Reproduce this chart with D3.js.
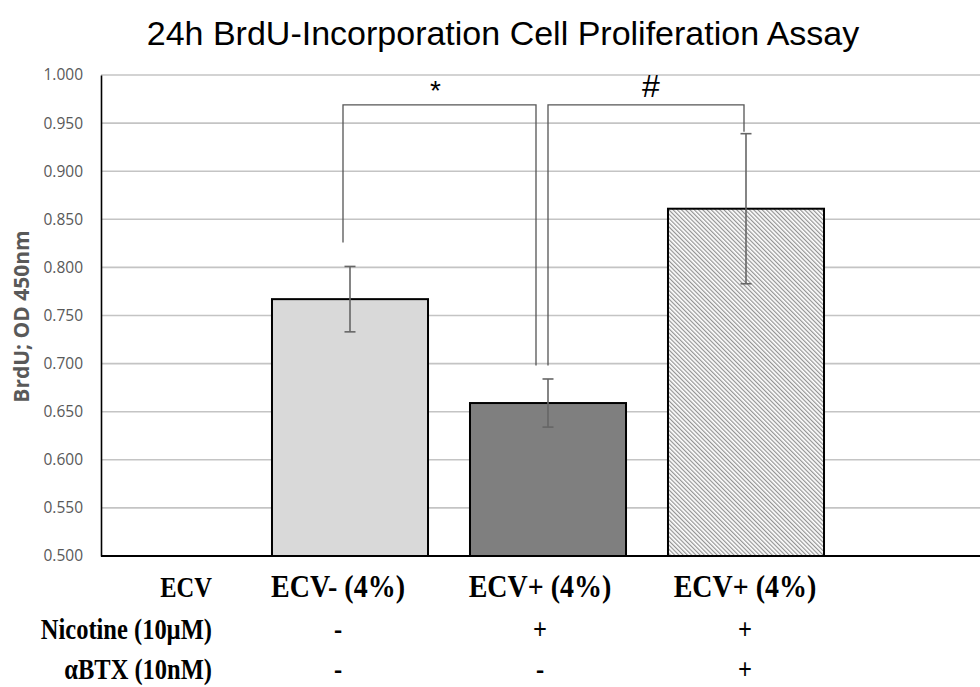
<!DOCTYPE html>
<html>
<head>
<meta charset="utf-8">
<script src="https://cdn.jsdelivr.net/npm/d3@7"></script>
<style>
  html, body { margin: 0; padding: 0; background: #fff; }
  svg { display: block; }
</style>
</head>
<body>
<svg id="chart" width="980" height="687"></svg>
<script>
// ---- data ----
const groups = ["ECV- (4%)", "ECV+ (4%) nic", "ECV+ (4%) nic+btx"];
const groupLabels = ["ECV- (4%)", "ECV+ (4%)", "ECV+ (4%)"];
const means = [0.767, 0.659, 0.861];
const errors = [0.034, 0.025, 0.078];
const nicotineRow = ["-", "+", "+"];
const btxRow = ["-", "-", "+"];
const rowTitles = ["ECV", "Nicotine (10\u00b5M)", "\u03b1BTX (10nM)"];
const yTicks = [0.5, 0.55, 0.6, 0.65, 0.7, 0.75, 0.8, 0.85, 0.9, 0.95, 1.0];
// significance brackets: from/to group index, top level and leg end levels
const brackets = [
  { from: 0, to: 1, top: 0.969, leftEnd: 0.826, rightEnd: 0.698, label: "*" },
  { from: 1, to: 2, top: 0.969, leftEnd: 0.698, rightEnd: 0.941, label: "#" }
];

// ---- layout ----
const svg = d3.select("#chart");
const plotLeft = 101, plotRight = 980, plotTop = 75, plotBottom = 556;

const y = d3.scaleLinear().domain([0.5, 1.0]).range([plotBottom, plotTop]);
const x = d3.scaleBand().domain(groups).range([251, 845]).paddingInner(0.212).paddingOuter(0.106);

// hatch pattern for third bar
const defs = svg.append("defs");
const pat = defs.append("pattern")
  .attr("id", "hatch").attr("patternUnits", "userSpaceOnUse")
  .attr("width", 3).attr("height", 3)
  .attr("patternTransform", "rotate(-45)");
pat.append("rect").attr("width", 3).attr("height", 3).attr("fill", "#ffffff");
pat.append("rect").attr("x", 0).attr("y", 0).attr("width", 1.2).attr("height", 3).attr("fill", "#939393");

// title
svg.append("text")
  .attr("x", 503).attr("y", 45)
  .attr("text-anchor", "middle")
  .attr("font-family", "Liberation Sans, Arial, sans-serif")
  .attr("font-size", 34)
  .attr("fill", "#000")
  .text("24h BrdU-Incorporation Cell Proliferation Assay");

// gridlines
svg.append("g").selectAll("line").data(yTicks.slice(1)).join("line")
  .attr("x1", plotLeft).attr("x2", plotRight)
  .attr("y1", d => y(d)).attr("y2", d => y(d))
  .attr("stroke", "#c4c4c4").attr("stroke-width", 1.6);

// y axis
const yAxis = svg.append("g").attr("transform", `translate(${plotLeft},0)`)
  .call(d3.axisLeft(y).tickValues(yTicks).tickFormat(d3.format(".3f")).tickSize(0).tickPadding(18));
yAxis.select(".domain").attr("stroke", "#000").attr("stroke-width", 1.6);
yAxis.selectAll("text")
  .attr("font-family", "Open Sans, sans-serif")
  .attr("font-size", 15.5)
  .attr("fill", "#595959");

// y axis title
svg.append("text")
  .attr("transform", `translate(29,${(plotTop + plotBottom) / 2 + 1}) rotate(-90)`)
  .attr("text-anchor", "middle")
  .attr("font-family", "Open Sans, sans-serif")
  .attr("font-weight", "bold")
  .attr("font-size", 21)
  .attr("fill", "#595959")
  .text("BrdU; OD 450nm");

// bars
const fills = ["#d9d9d9", "#7f7f7f", "url(#hatch)"];
svg.append("g").selectAll("rect").data(groups).join("rect")
  .attr("x", d => x(d))
  .attr("y", (d, i) => y(means[i]))
  .attr("width", x.bandwidth())
  .attr("height", (d, i) => y(0.5) - y(means[i]))
  .attr("fill", (d, i) => fills[i])
  .attr("stroke", "#000").attr("stroke-width", 2);

// baseline
svg.append("line")
  .attr("x1", plotLeft).attr("x2", plotRight)
  .attr("y1", plotBottom).attr("y2", plotBottom)
  .attr("stroke", "#000").attr("stroke-width", 2);

// error bars
const eb = svg.append("g").attr("stroke", "#666").attr("stroke-width", 1.6).attr("fill", "none");
groups.forEach((g, i) => {
  const cx = x(g) + x.bandwidth() / 2;
  const hi = y(means[i] + errors[i]), lo = y(means[i] - errors[i]);
  eb.append("line").attr("x1", cx).attr("x2", cx).attr("y1", hi).attr("y2", lo);
  eb.append("line").attr("x1", cx - 5.5).attr("x2", cx + 5.5).attr("y1", hi).attr("y2", hi);
  eb.append("line").attr("x1", cx - 5.5).attr("x2", cx + 5.5).attr("y1", lo).attr("y2", lo);
});

// significance brackets
const legOffsets = [[-7, -12], [0, -2]];
const labelStyle = { "*": { dx: -4, dy: -5, size: 28 }, "#": { dx: 5, dy: -8, size: 32 } };
const bg = svg.append("g");
brackets.forEach((b, k) => {
  const x1 = x(groups[b.from]) + x.bandwidth() / 2 + legOffsets[k][0];
  const x2 = x(groups[b.to]) + x.bandwidth() / 2 + legOffsets[k][1];
  const path = d3.path();
  path.moveTo(x1, y(b.leftEnd));
  path.lineTo(x1, y(b.top));
  path.lineTo(x2, y(b.top));
  path.lineTo(x2, y(b.rightEnd));
  bg.append("path").attr("d", path.toString())
    .attr("fill", "none").attr("stroke", "#555").attr("stroke-width", 1.3);
  const st = labelStyle[b.label];
  bg.append("text")
    .attr("x", (x1 + x2) / 2 + st.dx)
    .attr("y", y(b.top) + st.dy)
    .attr("text-anchor", "middle")
    .attr("font-family", "Liberation Sans, Arial, sans-serif")
    .attr("font-size", st.size)
    .attr("fill", "#000")
    .text(b.label);
});

// condition table under the axis
const serif = "Liberation Serif, Times New Roman, serif";
const rowY = [597, 639, 679];
const titleX = 212;
const stretch = (cx, cy, sy) => `translate(${cx},${cy}) scale(1,${sy}) translate(${-cx},${-cy})`;
svg.append("g").selectAll("text").data(rowTitles).join("text")
  .attr("x", titleX).attr("y", (d, i) => rowY[i])
  .attr("text-anchor", "end")
  .attr("font-family", serif).attr("font-weight", "bold")
  .attr("font-size", 24.5)
  .attr("transform", (d, i) => stretch(titleX, rowY[i], 1.2))
  .text(d => d);

const colShift = [-12, -8, -1];
const cellX = i => x(groups[i]) + x.bandwidth() / 2 + colShift[i];
const rows = [groupLabels, nicotineRow, btxRow];
rows.forEach((row, r) => {
  svg.append("g").selectAll("text").data(row).join("text")
    .attr("x", (d, i) => cellX(i)).attr("y", rowY[r])
    .attr("text-anchor", "middle")
    .attr("font-family", serif).attr("font-weight", "bold")
    .attr("font-size", r === 0 ? 28 : 24.5)
    .attr("transform", (d, i) => stretch(cellX(i), rowY[r], r === 0 ? 1.1 : 1.2))
    .text(d => d);
});
</script>
</body>
</html>
